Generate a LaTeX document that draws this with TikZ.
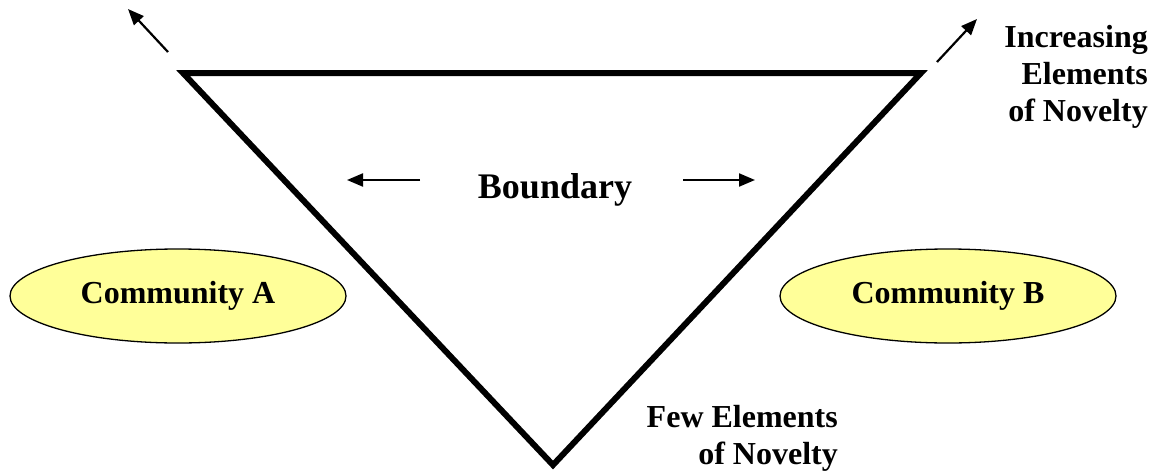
\documentclass[tikz,border=0pt]{standalone}
\usepackage{fontspec}
\setmainfont{Liberation Serif}
\usetikzlibrary{arrows.meta,shapes.geometric}
\definecolor{commfill}{HTML}{FFFF99}
\begin{document}
\begin{tikzpicture}[x=1pt,y=-1pt,
  lbl/.style={font=\bfseries\fontsize{32}{37}\selectfont, inner sep=0pt},
  comm/.style={ellipse, draw=black, line width=1.3pt, fill=commfill, minimum width=336pt, minimum height=94pt, inner sep=0pt, font=\bfseries\fontsize{32}{37}\selectfont},
  arr/.style={line width=2.2pt, -{Triangle[length=16pt,width=13pt]}},
  tri/.style={line width=6pt, miter limit=20}]
\useasboundingbox (0,0) rectangle (1162,474);
% triangle
\coordinate (tl) at (183,73);
\coordinate (tr) at (921,73);
\coordinate (bt) at (553,465);
\draw[tri] (tl) -- (tr) -- (bt) -- cycle;
% diagonal arrows
\coordinate (a1s) at (168,52);
\coordinate (a1e) at (128,9);
\coordinate (a2s) at (937,62);
\coordinate (a2e) at (977,19);
\draw[arr] (a1s) -- (a1e);
\draw[arr] (a2s) -- (a2e);
% boundary
\node[lbl, font=\bfseries\fontsize{36}{40}\selectfont] (bd) at (555,190) {Boundary};
\coordinate (l1) at (420,180);
\coordinate (l2) at (347,180);
\coordinate (r1) at (683,180);
\coordinate (r2) at (755,180);
\draw[arr] (l1) -- (l2);
\draw[arr] (r1) -- (r2);
% communities
\node[comm] (ca) at (178,296) {Community A};
\node[comm] (cb) at (948,296) {Community B};
% labels
\node[lbl, align=right, anchor=north east] (inc) at (1148,25) {Increasing\\Elements\\of Novelty};
\node[lbl, align=right, anchor=north east] (few) at (838,405) {Few Elements\\of Novelty};
\end{tikzpicture}
\end{document}
